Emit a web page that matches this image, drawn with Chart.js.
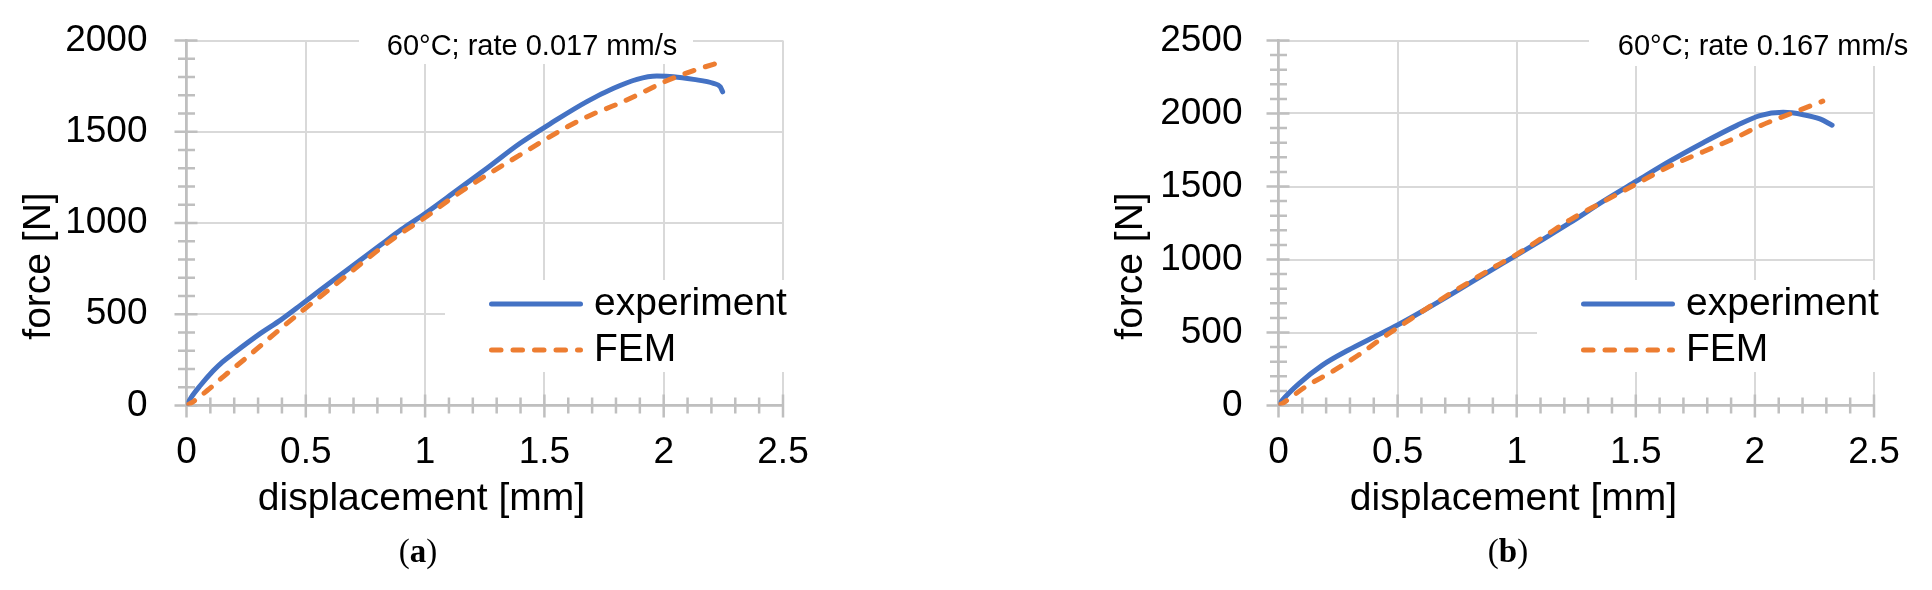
<!DOCTYPE html>
<html>
<head>
<meta charset="utf-8">
<script src="https://cdn.jsdelivr.net/npm/chart.js@4/dist/chart.umd.min.js"></script>
<style>
  html, body { margin:0; padding:0; background:#fff; }
  body { width:1932px; height:590px; position:relative; overflow:hidden; }
  canvas { position:absolute; top:0; }
  .cap { position:absolute; font-family:'Liberation Serif','Times New Roman',serif; font-size:33px; line-height:33px; color:#000; transform:translateX(-50%); white-space:nowrap; top:535px; }
</style>
</head>
<body>
<canvas id="ca" width="966" height="590" style="left:0px"></canvas>
<canvas id="cb" width="966" height="590" style="left:966px"></canvas>
<div class="cap" style="left:418px">(<b>a</b>)</div>
<div class="cap" style="left:1508px">(<b>b</b>)</div>
<script>
// ---------- data ----------
const seriesNames = ['experiment', 'FEM'];
const xTicks = [0, 0.5, 1, 1.5, 2, 2.5];
const yTicksA = [0, 500, 1000, 1500, 2000];
const yTicksB = [0, 500, 1000, 1500, 2000, 2500];
const titleA = '60°C; rate 0.017 mm/s';
const titleB = '60°C; rate 0.167 mm/s';
const xTitle = 'displacement [mm]';
const yTitle = 'force [N]';

// (a) experiment
const dispExpA  = [0, 0.02, 0.057, 0.112, 0.15, 0.196, 0.31, 0.394, 0.478, 0.561, 0.673, 0.813, 0.9, 1.0, 1.119, 1.259, 1.398, 1.538, 1.678, 1.79, 1.888, 1.971, 2.041, 2.125, 2.209, 2.237, 2.247];
const forceExpA = [0, 45, 108, 190, 238, 285, 395, 468, 550, 633, 742, 879, 964, 1052, 1165, 1300, 1437, 1555, 1665, 1738, 1787, 1805, 1802, 1787, 1765, 1747, 1719];
// (a) FEM
const dispFemA  = [0, 0.02, 0.087, 0.156, 0.254, 0.366, 0.491, 0.603, 0.743, 0.883, 1.0, 1.119, 1.259, 1.398, 1.5, 1.6, 1.7, 1.8, 1.9, 2.0, 2.125, 2.255];
const forceFemA = [0, 14, 82, 160, 265, 390, 525, 641, 789, 930, 1030, 1144, 1263, 1373, 1455, 1530, 1595, 1648, 1708, 1772, 1835, 1888];
// (b) experiment
const dispExpB  = [0, 0.017, 0.086, 0.183, 0.294, 0.392, 0.5, 0.6, 0.739, 0.878, 1.0, 1.114, 1.224, 1.364, 1.504, 1.644, 1.783, 1.923, 2.021, 2.119, 2.203, 2.273, 2.324];
const forceExpB = [0, 38, 150, 275, 380, 462, 551, 642, 775, 912, 1030, 1142, 1252, 1400, 1538, 1675, 1800, 1917, 1986, 2008, 1992, 1963, 1920];
// (b) FEM
const dispFemB  = [0, 0.017, 0.114, 0.225, 0.336, 0.447, 0.53, 0.642, 0.78, 0.92, 1.0, 1.114, 1.224, 1.364, 1.504, 1.644, 1.783, 1.923, 2.021, 2.147, 2.285];
const forceFemB = [0, 15, 129, 232, 346, 475, 565, 685, 825, 962, 1035, 1156, 1272, 1396, 1519, 1640, 1738, 1837, 1915, 1997, 2085];

// ---------- styling ----------
const FONT = "'Liberation Sans', Arial, sans-serif";
const BLUE = '#4472C4', ORANGE = '#ED7D31';
const GRID = '#d9d9d9', AXIS = '#bfbfbf';

function pts(xs, ys) { return xs.map((x, i) => ({ x: x, y: ys[i] })); }

const decor = {
  id: 'decor',
  beforeDatasetsDraw(chart, args, o) {
    const { ctx, chartArea: a, scales } = chart;
    ctx.save();
    ctx.fillStyle = '#fff';
    ctx.fillRect(a.left + o.titleBox[0], a.top - 12, o.titleBox[1] - o.titleBox[0], o.titleBox[2] + 12);
    ctx.fillRect(a.left + 258.5, a.top + 239.5, 380, 92);
    // ticks
    ctx.strokeStyle = AXIS;
    ctx.lineWidth = 2.5;
    const xs = scales.x, ys = scales.y;
    const ax = a.left, ay = a.bottom;
    ctx.beginPath();
    for (let v = 0; v <= xs.max + 1e-9; v += o.minorX) {
      const px = xs.getPixelForValue(v);
      const major = xTicks.some(t => Math.abs(t - v) < 1e-6);
      if (major) { ctx.moveTo(px, ay - 11); ctx.lineTo(px, ay + 12); }
      else { ctx.moveTo(px, ay - 8); ctx.lineTo(px, ay + 8); }
    }
    for (let v = 0; v <= ys.max + 1e-9; v += o.minorY) {
      const py = ys.getPixelForValue(v);
      const major = o.yTicks.some(t => Math.abs(t - v) < 1e-6);
      if (major) { ctx.moveTo(ax - 12, py); ctx.lineTo(ax + 11, py); }
      else { ctx.moveTo(ax - 8.5, py); ctx.lineTo(ax + 8.5, py); }
    }
    ctx.stroke();
    ctx.restore();
  },
  afterDraw(chart, args, o) {
    const { ctx, chartArea: a } = chart;
    ctx.save();
    ctx.fillStyle = '#000';
    // title
    ctx.font = '29px ' + FONT;
    ctx.textAlign = 'center';
    ctx.textBaseline = 'alphabetic';
    ctx.fillText(o.title, a.left + o.titleCx, a.top + 14.5);
    // axis titles
    ctx.font = '39px ' + FONT;
    ctx.fillText(xTitle, a.left + 235, a.top + 469.5);
    ctx.save();
    ctx.translate(a.left - 136.5, a.top + 225.5);
    ctx.rotate(-Math.PI / 2);
    ctx.fillText(yTitle, 0, 0);
    ctx.restore();
    // legend
    const rows = [263.5, 309.5];
    chart.data.datasets.forEach((ds, i) => {
      const y = a.top + rows[i];
      ctx.save();
      ctx.strokeStyle = ds.borderColor;
      ctx.lineWidth = ds.borderWidth;
      ctx.lineCap = 'round';
      ctx.setLineDash(ds.borderDash || []);
      ctx.beginPath();
      ctx.moveTo(a.left + 305, y);
      ctx.lineTo(a.left + 394, y);
      ctx.stroke();
      ctx.restore();
      ctx.font = '39px ' + FONT;
      ctx.textAlign = 'left';
      ctx.textBaseline = 'middle';
      ctx.fillText(ds.label, a.left + 407.5, y);
    });
    ctx.restore();
  }
};

function makeChart(id, expX, expY, femX, femY, yTicks, yMax, yPad, rightPad, axisLeft, title, titleCx, titleBox) {
  return new Chart(document.getElementById(id), {
    type: 'scatter',
    data: {
      datasets: [
        { label: seriesNames[0], data: pts(expX, expY), showLine: true, borderColor: BLUE, backgroundColor: BLUE,
          borderWidth: 5, pointRadius: 0, cubicInterpolationMode: 'monotone', borderCapStyle: 'round',
          borderJoinStyle: 'round', fill: false, order: 1 },
        { label: seriesNames[1], data: pts(femX, femY), showLine: true, borderColor: ORANGE, backgroundColor: ORANGE,
          borderWidth: 5, borderDash: [9.5, 12], borderCapStyle: 'round', pointRadius: 0,
          cubicInterpolationMode: 'monotone', fill: false, order: 0 }
      ]
    },
    options: {
      responsive: false,
      animation: false,
      devicePixelRatio: 1,
      layout: { padding: { left: 0, right: rightPad, top: 40.5, bottom: 0 } },
      plugins: {
        legend: { display: false },
        tooltip: { enabled: false },
        title: { display: false },
        decor: { title: title, titleCx: titleCx, titleBox: titleBox, minorX: 0.1, minorY: 100, yTicks: yTicks }
      },
      scales: {
        x: {
          type: 'linear', min: 0, max: 2.5,
          afterBuildTicks: s => { s.ticks = xTicks.map(v => ({ value: v })); },
          afterFit: s => { s.height = 184.5; },
          ticks: { font: { family: FONT, size: 37 }, color: '#000', padding: 0, maxRotation: 0, autoSkip: false,
                   callback: v => String(v) },
          grid: { color: GRID, lineWidth: 2, drawTicks: true, tickLength: 25, tickColor: 'rgba(0,0,0,0)' },
          border: { color: AXIS, width: 2.5 }
        },
        y: {
          type: 'linear', min: 0, max: yMax,
          afterBuildTicks: s => { s.ticks = yTicks.map(v => ({ value: v })); },
          afterFit: s => { s.width = axisLeft; },
          ticks: { font: { family: FONT, size: 37 }, color: '#000', padding: 0, autoSkip: false,
                   callback: v => String(v) },
          grid: { color: GRID, lineWidth: 2, drawTicks: true, tickLength: yPad, tickColor: 'rgba(0,0,0,0)' },
          border: { color: AXIS, width: 2.5 }
        }
      }
    },
    plugins: [decor]
  });
}

makeChart('ca', dispExpA, forceExpA, dispFemA, forceFemA, yTicksA, 2000, 39, 183, 186.5, titleA, 345.5, [172.5, 506.5, 23.5]);
makeChart('cb', dispExpB, forceExpB, dispFemB, forceFemB, yTicksB, 2500, 36, 58, 312.5, titleB, 484.5, [310.5, 700, 25.5]);
</script>
</body>
</html>
